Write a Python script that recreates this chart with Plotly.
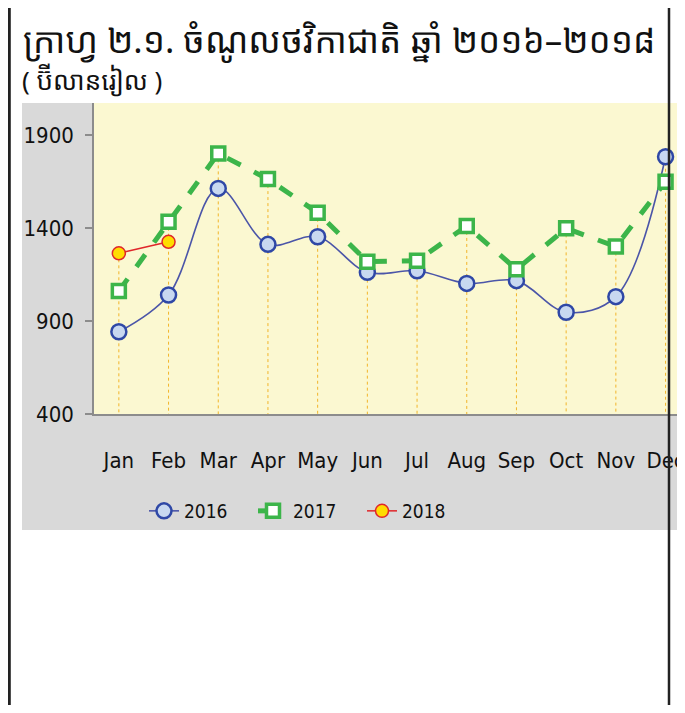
import plotly.graph_objects as go

months = ["Jan", "Feb", "Mar", "Apr", "May", "Jun", "Jul", "Aug", "Sep", "Oct", "Nov", "Dec"]
v2016 = [842, 1040, 1613, 1312, 1353, 1162, 1170, 1102, 1117, 947, 1031, 1783]
v2017 = [1061, 1434, 1801, 1663, 1482, 1219, 1224, 1411, 1178, 1398, 1300, 1649]
v2018 = [1264, 1326]
y_ticks = [400, 900, 1400, 1900]

title_text = "ក្រាហ្វ ២.១. ចំណូលថវិកាជាតិ ឆ្នាំ ២០១៦–២០១៨"
subtitle_text = "( ប៊ីលានរៀល )"

# the page body has an 8px margin: work in window pixels, offset into figure pixels
OFF = 8
W, H = 685 - OFF, 713 - 2 * OFF
L, R, T, B = 94 - OFF, 685 - OFF, 103 - OFF, 414 - OFF
PW, PH = R - L, B - T

def px(x):
    return (x - OFF - L) / PW

def py(y):
    return (B - (y - OFF)) / PH

num_font = "Liberation Sans Narrow, DejaVu Sans Condensed, Arial Narrow, sans-serif"
khmer_font = "Noto Sans Khmer, Khmer OS, Khmer OS System, Noto Sans, sans-serif"

xi = list(range(len(months)))

# drop lines from highest point to axis
drop_x, drop_y = [], []
for i in xi:
    vals = [v2016[i], v2017[i]] + ([v2018[i]] if i < len(v2018) else [])
    drop_x += [i, i, None]
    drop_y += [max(vals), y_ticks[0], None]

fig = go.Figure()
fig.add_trace(go.Scatter(x=drop_x, y=drop_y, mode="lines",
                         line=dict(color="#f2b52a", width=1, dash="dot"),
                         showlegend=False, hoverinfo="skip"))
fig.add_trace(go.Scatter(x=xi, y=v2016, name="2016", mode="lines+markers",
                         line=dict(color="#4b55a8", width=1.6, shape="spline"),
                         marker=dict(symbol="circle", size=15, color="#c8d8f0",
                                     line=dict(color="#2f48a6", width=2.5))))
fig.add_trace(go.Scatter(x=xi, y=v2017, name="2017", mode="lines+markers",
                         line=dict(color="#3cb54a", width=5, dash="dash"),
                         marker=dict(symbol="square", size=13, color="#ffffff",
                                     line=dict(color="#3cb54a", width=3.5))))
fig.add_trace(go.Scatter(x=xi[:len(v2018)], y=v2018, name="2018", mode="lines+markers",
                         line=dict(color="#e0262a", width=1.5),
                         marker=dict(symbol="circle", size=13, color="#ffdc00",
                                     line=dict(color="#e0262a", width=1.5))))

shapes = [
    # gray chart area
    dict(type="rect", xref="paper", yref="paper", x0=px(22), x1=px(700), y0=py(530), y1=py(103),
         fillcolor="#d9d9d9", line=dict(width=0), layer="below"),
    # plot area
    dict(type="rect", xref="paper", yref="paper", x0=0, x1=1.05, y0=0, y1=1,
         fillcolor="#fbf8d1", line=dict(width=0), layer="below"),
    # page border lines
    dict(type="line", xref="paper", yref="paper", x0=px(9.4), x1=px(9.4), y0=py(0), y1=py(720),
         line=dict(color="#222222", width=2.8)),
    dict(type="line", xref="paper", yref="paper", x0=px(669), x1=px(669), y0=py(0), y1=py(720),
         line=dict(color="#222222", width=2.5)),
]

fig.update_layout(
    width=W, height=H,
    margin=dict(l=L, r=W - R, t=T, b=H - B, pad=0),
    paper_bgcolor="#ffffff", plot_bgcolor="rgba(0,0,0,0)",
    shapes=shapes,
    showlegend=True,
    legend=dict(orientation="h", x=px(144), xanchor="left", y=py(511), yanchor="middle",
                bgcolor="rgba(0,0,0,0)", font=dict(family=num_font, size=19, color="#111111"),
                itemwidth=30, entrywidth=64, entrywidthmode="pixels", tracegroupgap=0),
    annotations=[
        dict(text=title_text, xref="paper", yref="paper", x=px(21), y=py(39),
             xanchor="left", yanchor="middle", showarrow=False,
             font=dict(family=khmer_font, size=35, color="#111111")),
        dict(text=subtitle_text, xref="paper", yref="paper", x=px(20), y=py(80),
             xanchor="left", yanchor="middle", showarrow=False,
             font=dict(family=khmer_font, size=26, color="#111111")),
    ],
)

fig.update_xaxes(range=[-0.5, -0.5 + PW / 49.7], tickmode="array", tickvals=xi, ticktext=months,
                 showgrid=False, zeroline=False, showline=True, linecolor="#8c8c8c", linewidth=1.5,
                 ticks="", ticklabelstandoff=26,
                 tickfont=dict(family=num_font, size=22, color="#111111"), fixedrange=True)
fig.update_yaxes(range=[400, 400 + PH / 0.186], tickmode="array", tickvals=y_ticks,
                 showgrid=False, zeroline=False, showline=True, linecolor="#8c8c8c", linewidth=1.5,
                 ticks="outside", ticklen=7, tickcolor="#8c8c8c", tickwidth=1.5, ticklabelstandoff=7,
                 tickfont=dict(family=num_font, size=22, color="#111111"), fixedrange=True)

fig.write_html("out.html")
